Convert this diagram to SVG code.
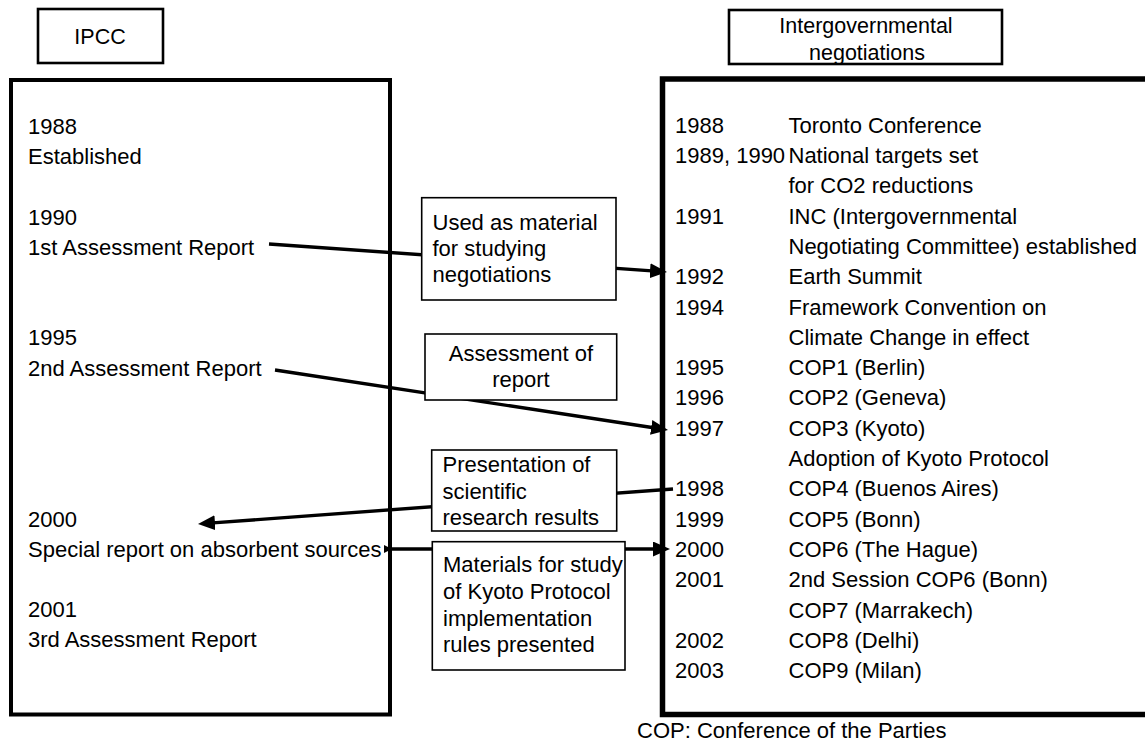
<svg xmlns="http://www.w3.org/2000/svg" width="1145" height="742" viewBox="0 0 1145 742">
<style>
text{font-family:"Liberation Sans",Arial,sans-serif;font-size:22px;fill:#000}
.hd{font-size:21.5px}
.c{text-anchor:middle}
.big{fill:none;stroke:#000}
.lab{fill:#fff;stroke:#000;stroke-width:1.6}
.hdr{fill:#fff;stroke:#000;stroke-width:2.6}
.conn{fill:none;stroke:#000;stroke-width:3.4}
</style>
<defs>
<marker id="ah" markerUnits="userSpaceOnUse" orient="auto" markerWidth="17" markerHeight="15" refX="9" refY="7.5" viewBox="0 0 17 15"><path d="M0,0 L17,7.5 L0,15 z" fill="#000"/></marker>
<marker id="ahs" markerUnits="userSpaceOnUse" orient="auto" markerWidth="8" markerHeight="8" refX="4" refY="4" viewBox="0 0 8 8"><path d="M0,0 L8,4 L0,8 z" fill="#000"/></marker>
</defs>
<g id="ipcc-header"><rect class="hdr" x="38" y="9" width="125" height="54"/><text class="hd c" x="100" y="43.5">IPCC</text></g>
<g id="neg-header"><rect class="hdr" x="729" y="10" width="273" height="54"/><text class="hd c" x="866" y="32.5">Intergovernmental</text><text class="hd c" x="867" y="60">negotiations</text></g>
<g id="ipcc-box"><rect class="big" style="stroke-width:4" x="11" y="80" width="379" height="634.5"/>
<text x="28" y="134">1988</text><text x="28" y="164.2">Established</text>
<text x="28" y="224.6">1990</text><text x="28" y="254.8">1st Assessment Report</text>
<text x="28" y="345.4">1995</text><text x="28" y="375.6">2nd Assessment Report</text>
<text x="28" y="526.6">2000</text><text x="28" y="556.8">Special report on absorbent sources</text>
<text x="28" y="617.2">2001</text><text x="28" y="647.4">3rd Assessment Report</text>
</g>
<g id="neg-box"><rect class="big" style="stroke-width:5.5" x="662.5" y="79" width="490" height="635.5"/>
<text x="675" y="132.7">1988</text><text x="788.5" y="132.7">Toronto Conference</text>
<text x="675" y="163">1989, 1990</text><text x="788.5" y="163">National targets set</text>
<text x="788.5" y="193.3">for CO2 reductions</text>
<text x="675" y="223.6">1991</text><text x="788.5" y="223.6">INC (Intergovernmental</text>
<text x="788.5" y="253.9">Negotiating Committee) established</text>
<text x="675" y="284.2">1992</text><text x="788.5" y="284.2">Earth Summit</text>
<text x="675" y="314.5">1994</text><text x="788.5" y="314.5">Framework Convention on</text>
<text x="788.5" y="344.8">Climate Change in effect</text>
<text x="675" y="375.1">1995</text><text x="788.5" y="375.1">COP1 (Berlin)</text>
<text x="675" y="405.4">1996</text><text x="788.5" y="405.4">COP2 (Geneva)</text>
<text x="675" y="435.7">1997</text><text x="788.5" y="435.7">COP3 (Kyoto)</text>
<text x="788.5" y="466">Adoption of Kyoto Protocol</text>
<text x="675" y="496.3">1998</text><text x="788.5" y="496.3">COP4 (Buenos Aires)</text>
<text x="675" y="526.6">1999</text><text x="788.5" y="526.6">COP5 (Bonn)</text>
<text x="675" y="556.9">2000</text><text x="788.5" y="556.9">COP6 (The Hague)</text>
<text x="675" y="587.2">2001</text><text x="788.5" y="587.2">2nd Session COP6 (Bonn)</text>
<text x="788.5" y="617.5">COP7 (Marrakech)</text>
<text x="675" y="647.8">2002</text><text x="788.5" y="647.8">COP8 (Delhi)</text>
<text x="675" y="678.1">2003</text><text x="788.5" y="678.1">COP9 (Milan)</text>
</g>
<g id="footnote"><text x="637" y="737.7">COP: Conference of the Parties</text></g>
<g id="connectors">
<line class="conn" x1="269" y1="244" x2="659" y2="271.4" marker-end="url(#ah)"/>
<line class="conn" x1="275" y1="370" x2="660.1" y2="428.8" marker-end="url(#ah)"/>
<line class="conn" x1="673" y1="489" x2="206" y2="523.4" marker-end="url(#ah)"/>
<line class="conn" x1="388" y1="549" x2="662" y2="549" marker-start="url(#ahs)" marker-end="url(#ah)"/>
</g>
<g id="label-used"><rect class="lab" x="421.7" y="197.7" width="194.3" height="102.3"/>
<text x="432.5" y="230">Used as material</text><text x="432.5" y="256">for studying</text><text x="432.5" y="281.7">negotiations</text></g>
<g id="label-assessment"><rect class="lab" x="425" y="334" width="191.7" height="66"/>
<text class="c" x="521" y="361">Assessment of</text><text class="c" x="521" y="387">report</text></g>
<g id="label-presentation"><rect class="lab" x="431.7" y="450" width="185" height="81"/>
<text x="442.5" y="472.3">Presentation of</text><text x="442.5" y="499">scientific</text><text x="442.5" y="525">research results</text></g>
<g id="label-materials"><rect class="lab" x="432.3" y="541.7" width="192.7" height="128.3"/>
<text x="443" y="572.3">Materials for study</text><text x="443" y="599">of Kyoto Protocol</text><text x="443" y="625.7">implementation</text><text x="443" y="652.4">rules presented</text></g>
</svg>
